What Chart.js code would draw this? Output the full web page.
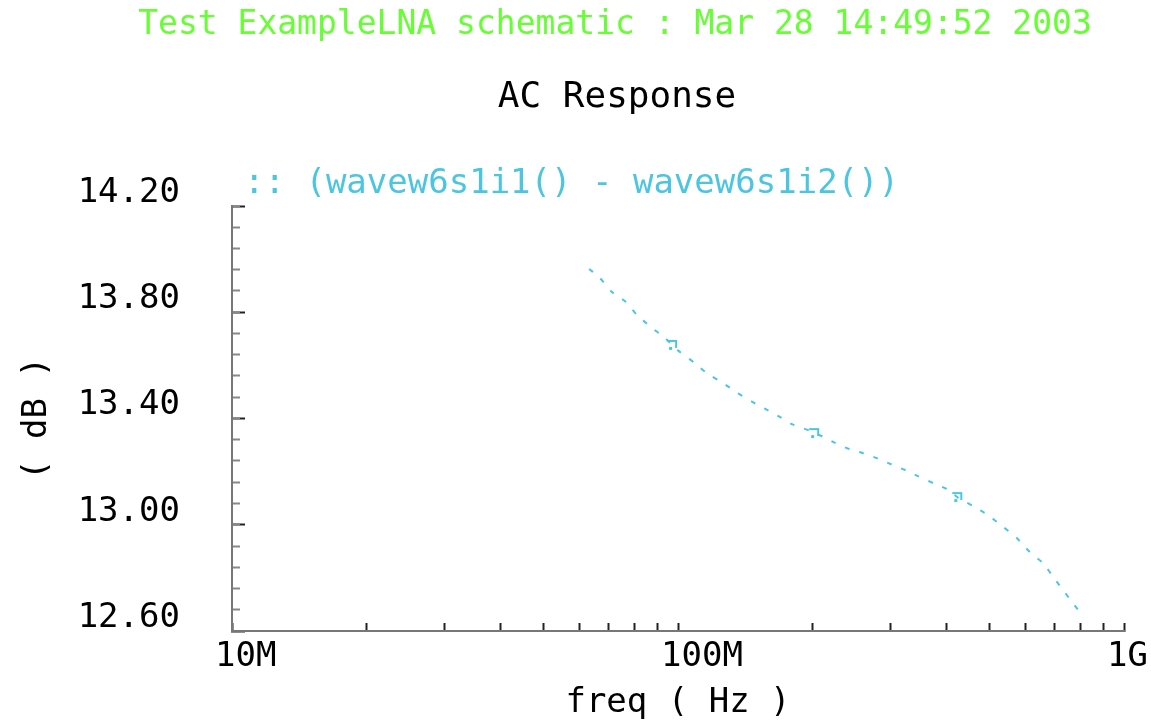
<!DOCTYPE html>
<html>
<head>
<meta charset="utf-8">
<title>AC Response</title>
<script src="https://cdn.jsdelivr.net/npm/chart.js@4.4.1/dist/chart.umd.min.js"></script>
<style>
    html, body { margin: 0; padding: 0; background: #fff; }
    #graficoContainer { width: 1151px; height: 721px; }
</style>
</head>
<body>
<div id="graficoContainer"><canvas id="graficoAC" width="1151" height="721"></canvas></div>
<script>
// Datos (frecuencia en Hz, ganancia en dB)
const frecuencias = [63.2e6, 66.8e6, 71.1e6, 76.4e6, 80.9e6, 87.0e6, 93.5e6, 101e6, 109e6, 116e6,
    126e6, 136e6, 147e6, 157e6, 168e6, 180e6, 201e6, 225e6, 242e6, 259e6, 279e6, 299e6, 323e6,
    345e6, 373e6, 401e6, 425e6, 459e6, 495e6, 533e6, 575e6, 615e6, 658e6, 697e6, 789e6];
const ganancia = [13.963, 13.929, 13.876, 13.839, 13.790, 13.744, 13.703, 13.650, 13.609, 13.571,
    13.534, 13.496, 13.462, 13.436, 13.409, 13.379, 13.349, 13.308, 13.285, 13.270, 13.251, 13.229, 13.206,
    13.183, 13.157, 13.134, 13.101, 13.070, 13.037, 12.995, 12.950, 12.897, 12.856, 12.799, 12.679];

// Marcadores sobre la curva
const marcadorFrec = [97.5e6, 203e6, 425e6];
const marcadorGan = [13.677, 13.345, 13.104];

// Ejes
const ticksX = [1e7, 2e7, 3e7, 4e7, 5e7, 6e7, 7e7, 8e7, 9e7,
    1e8, 2e8, 3e8, 4e8, 5e8, 6e8, 7e8, 8e8, 9e8, 1e9];
const decadasX = [1e7, 1e8, 1e9];
const etiquetasX = ['10M', '100M', '1G'];

const ticksYMayores = [12.6, 13.0, 13.4, 13.8, 14.2];
const etiquetasY = ['12.60', '13.00', '13.40', '13.80', '14.20'];
const ticksYMenores = [12.60, 12.68, 12.76, 12.84, 12.92, 13.00, 13.08, 13.16, 13.24, 13.32, 13.40,
    13.48, 13.56, 13.64, 13.72, 13.80, 13.88, 13.96, 14.04, 14.12, 14.20];

const tituloTexto = 'Test ExampleLNA schematic : Mar 28 14:49:52 2003';
const subtituloTexto = 'AC Response';
const nombreSerie = '(wavew6s1i1() - wavew6s1i2())';

const colorCurva = '#4cc6e0';
const fuente = '"DejaVu Sans Mono", monospace';

// simbolo del marcador (gancho pequeño)
function crearMarcador() {
    const c = document.createElement('canvas');
    c.width = 14;
    c.height = 14;
    const g = c.getContext('2d');
    g.strokeStyle = colorCurva;
    g.fillStyle = colorCurva;
    g.lineWidth = 2;
    g.beginPath();
    g.moveTo(1, 3);
    g.lineTo(10, 3);
    g.lineTo(10, 10);
    g.stroke();
    g.fillRect(3, 9, 3, 3);
    return c;
}

// Titulos y leyenda al estilo del visor de Cadence (no van centrados en el canvas)
const encabezadoPlugin = {
    id: 'encabezadoCadence',
    afterDraw(chart) {
        const { ctx, chartArea } = chart;
        ctx.save();
        ctx.textBaseline = 'middle';

        ctx.textAlign = 'center';
        ctx.font = '33px ' + fuente;
        ctx.fillStyle = '#66ff33';
        ctx.fillText(tituloTexto, 615, 25);

        ctx.font = '36px ' + fuente;
        ctx.fillStyle = '#000';
        ctx.fillText(subtituloTexto, 617, 98);

        ctx.textAlign = 'left';
        ctx.font = '34px ' + fuente;
        ctx.fillStyle = colorCurva;
        ctx.fillText(':: ' + chart.data.datasets[0].label, chartArea.left + 12, chartArea.top - 22);
        ctx.restore();
    }
};

const ctx = document.getElementById('graficoAC').getContext('2d');

const chart = new Chart(ctx, {
    type: 'line',
    data: {
        datasets: [
            {
                label: nombreSerie,
                data: frecuencias.map((f, i) => ({ x: f, y: ganancia[i] })),
                borderColor: colorCurva,
                borderWidth: 2,
                borderDash: [5, 10],
                pointRadius: 0,
                fill: false,
                tension: 0.2
            },
            {
                label: 'marcadores',
                data: marcadorFrec.map((f, i) => ({ x: f, y: marcadorGan[i] })),
                showLine: false,
                pointStyle: crearMarcador(),
                pointRadius: 6
            }
        ]
    },
    options: {
        responsive: false,
        animation: false,
        layout: { padding: { top: 206, left: 0, right: 27, bottom: 0 } },
        plugins: {
            legend: { display: false },
            tooltip: { enabled: false },
            title: { display: false }
        },
        scales: {
            x: {
                type: 'logarithmic',
                min: 1e7,
                max: 1e9,
                afterBuildTicks: (scale) => {
                    scale.ticks = ticksX.map(v => ({ value: v }));
                },
                afterFit: (scale) => {
                    scale.height = 90;
                    scale.paddingLeft = 0;
                    scale.paddingRight = 0;
                },
                ticks: {
                    autoSkip: false,
                    maxRotation: 0,
                    align: 'start',
                    labelOffset: -17,
                    padding: 14,
                    color: '#000',
                    font: { family: fuente, size: 34 },
                    callback: function (value) {
                        const i = decadasX.indexOf(value);
                        return i >= 0 ? etiquetasX[i] : '';
                    }
                },
                grid: {
                    drawOnChartArea: false,
                    drawTicks: true,
                    tickLength: -8,
                    tickWidth: 2,
                    tickColor: '#222'
                },
                border: { display: true, color: '#777', width: 2 },
                title: {
                    display: true,
                    text: 'freq ( Hz )',
                    color: '#000',
                    font: { family: fuente, size: 34 },
                    padding: { top: 0, bottom: -3 }
                }
            },
            y: {
                type: 'linear',
                position: 'left',
                weight: 1,
                min: 12.6,
                max: 14.2,
                afterBuildTicks: (scale) => {
                    scale.ticks = ticksYMayores.map(v => ({ value: v }));
                },
                afterFit: (scale) => {
                    scale.width = 232;
                },
                ticks: {
                    autoSkip: false,
                    labelOffset: -13,
                    padding: 65,
                    color: '#000',
                    font: { family: fuente, size: 34 },
                    callback: function (value) {
                        const i = ticksYMayores.indexOf(value);
                        return i >= 0 ? etiquetasY[i] : '';
                    }
                },
                grid: {
                    drawOnChartArea: false,
                    drawTicks: true,
                    tickLength: -13,
                    tickWidth: 2,
                    tickColor: '#222'
                },
                border: { display: true, color: '#777', width: 2 },
                title: {
                    display: true,
                    text: '( dB )',
                    color: '#000',
                    font: { family: fuente, size: 34 },
                    padding: { top: 17, bottom: 0 }
                }
            },
            yMenor: {
                type: 'linear',
                position: 'left',
                weight: 0,
                min: 12.6,
                max: 14.2,
                afterBuildTicks: (scale) => {
                    scale.ticks = ticksYMenores.map(v => ({ value: v }));
                },
                afterFit: (scale) => {
                    scale.width = 0;
                },
                ticks: { display: false, autoSkip: false },
                grid: {
                    drawOnChartArea: false,
                    drawTicks: true,
                    tickLength: -8,
                    tickWidth: 2,
                    tickColor: '#888'
                },
                border: { display: false }
            }
        }
    },
    plugins: [encabezadoPlugin]
});
</script>
</body>
</html>
